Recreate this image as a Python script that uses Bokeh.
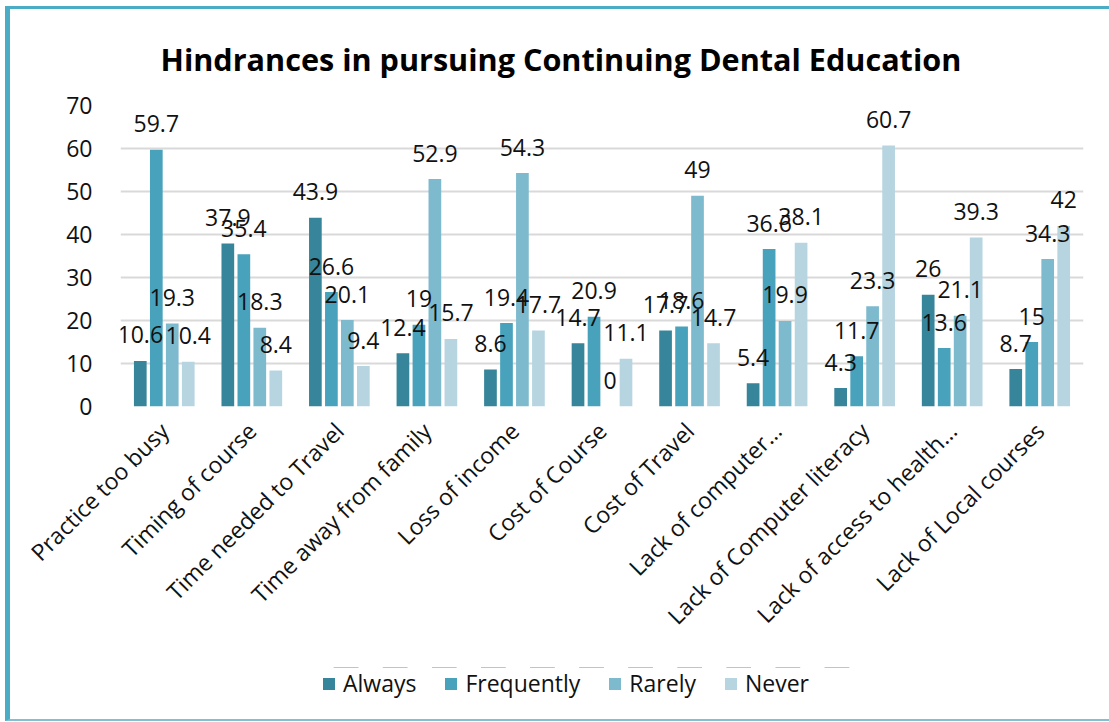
import math
from bokeh.plotting import figure
from bokeh.models import FactorRange, Range1d, Legend, LegendItem, InlineStyleSheet
from bokeh.transform import dodge
from bokeh.core.properties import value
from bokeh.embed import file_html
from bokeh.resources import INLINE

categories = [
    "Practice too busy",
    "Timing of course",
    "Time needed to Travel",
    "Time away from family",
    "Loss of income",
    "Cost of Course",
    "Cost of Travel",
    "Lack of computer\u2026",
    "Lack of Computer literacy",
    "Lack of access to health\u2026",
    "Lack of Local courses",
]
always = [10.6, 37.9, 43.9, 12.4, 8.6, 14.7, 17.7, 5.4, 4.3, 26, 8.7]
frequently = [59.7, 35.4, 26.6, 19, 19.4, 20.9, 18.6, 36.6, 11.7, 13.6, 15]
rarely = [19.3, 18.3, 20.1, 52.9, 54.3, 0, 49, 19.9, 23.3, 21.1, 34.3]
never = [10.4, 8.4, 9.4, 15.7, 17.7, 11.1, 14.7, 38.1, 60.7, 39.3, 42]

series_names = ["Always", "Frequently", "Rarely", "Never"]
series_values = [always, frequently, rarely, never]
series_colors = ["#37859a", "#48a2bb", "#7dbace", "#b6d5e1"]
offsets = [-0.274, -0.091, 0.091, 0.274]
y_ticks = [0, 10, 20, 30, 40, 50, 60, 70]

FONT = "Open Sans"

p = figure(
    frame_width=963,
    frame_height=301,
    x_range=FactorRange(*categories, range_padding=0),
    y_range=Range1d(0, 70),
    output_backend="svg",
    toolbar_location=None,
    min_border_left=110,
    min_border_right=26,
    min_border_top=96,
    min_border_bottom=260,
)
# chart box: thick accent rule on the left and top, thin one at the bottom
p.stylesheets = [InlineStyleSheet(css="""
:host {
  box-sizing: content-box !important;
  margin: 6px 0 0 5px !important;
  border-left: 5px solid #4bacc6 !important;
  border-top: 3px solid #4bacc6 !important;
  border-right: 0 none !important;
  border-bottom: 2px solid #7fc1d3 !important;
  padding: 0 !important;
  height: 710px !important;
  overflow: hidden !important;
  background: #ffffff;
}
""")]

p.title.text = "Hindrances in pursuing Continuing Dental Education"
p.title.text_font = FONT
p.title.text_font_size = "30.6px"
p.title.text_font_style = "bold"
p.title.text_color = "#000000"
p.title.align = "left"
p.title.offset = 40
p.title.standoff = 52

p.outline_line_color = None
p.background_fill_color = "white"
p.border_fill_color = "white"

p.xgrid.grid_line_color = None
p.ygrid.grid_line_color = "#d9d9d9"
p.ygrid.grid_line_width = 2
p.yaxis.ticker = y_ticks

for ax in (p.xaxis, p.yaxis):
    ax.axis_line_color = None
    ax.major_tick_line_color = None
    ax.minor_tick_line_color = None
    ax.major_label_text_font = FONT
    ax.major_label_text_font_size = "23px"
    ax.major_label_text_color = "#111111"

p.yaxis.major_label_standoff = 22
p.xaxis.major_label_standoff = 14
p.xaxis.major_label_orientation = math.pi / 4

data = {"cat": categories}
for name, vals in zip(series_names, series_values):
    data[name] = vals
    data[name + "_txt"] = [f"{v:g}" for v in vals]

for name, col, off in zip(series_names, series_colors, offsets):
    p.vbar(
        x=dodge("cat", off, range=p.x_range),
        top=name,
        width=0.145,
        source=data,
        fill_color=col,
        line_color=None,
    )

for name, off in zip(series_names, offsets):
    p.text(
        x=dodge("cat", off, range=p.x_range),
        y=name,
        text=name + "_txt",
        source=data,
        text_align="center",
        text_baseline="middle",
        y_offset=-26,
        text_font=value(FONT),
        text_font_size="23px",
        text_color="#111111",
    )

# legend strip laid over the bottom of the chart box; its bars sit outside
# the visible y range so only the legend keys show
key = figure(
    width=540,
    height=32,
    x_range=FactorRange(*categories),
    y_range=Range1d(-2, -1),
    output_backend="svg",
    toolbar_location=None,
    x_axis_type=None,
    y_axis_type=None,
    min_border=0,
    min_border_left=0,
    min_border_right=0,
    min_border_top=0,
    min_border_bottom=0,
)
key.stylesheets = [InlineStyleSheet(css="""
:host {
  position: absolute !important;
  left: 321px !important;
  top: 667px !important;
  background: transparent;
}
""")]
key.outline_line_color = None
key.xgrid.grid_line_color = None
key.ygrid.grid_line_color = None
key.background_fill_alpha = 0
key.border_fill_alpha = 0

items = []
for name, col in zip(series_names, series_colors):
    r = key.vbar(x="cat", top=name, width=0.5, source=data, fill_color=col, line_color=None)
    items.append(LegendItem(label=name, renderers=[r]))

legend = Legend(
    items=items,
    orientation="horizontal",
    location="top_left",
    glyph_width=15,
    glyph_height=15,
    label_standoff=7,
    spacing=27,
    padding=0,
    margin=0,
    border_line_color=None,
    background_fill_alpha=0,
    label_text_font=FONT,
    label_text_font_size="23px",
    label_text_color="#111111",
)
key.add_layout(legend, "center")

open("out.html", "w").write(file_html([p, key], INLINE))
